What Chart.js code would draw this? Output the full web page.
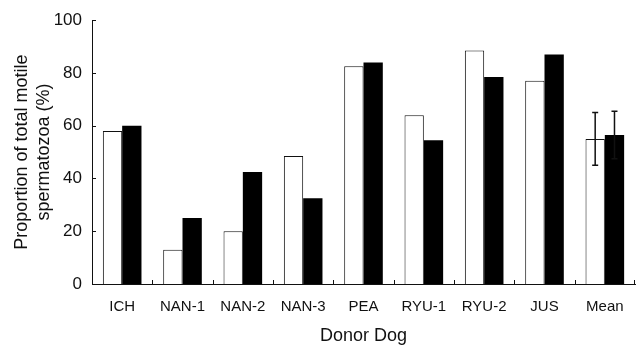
<!DOCTYPE html>
<html>
<head>
<meta charset="utf-8">
<script src="https://cdn.jsdelivr.net/npm/chart.js@4/dist/chart.umd.min.js"></script>
<style>
  html, body { margin: 0; padding: 0; background: #fff; }
  #wrap { width: 640px; height: 349px; }
</style>
</head>
<body>
<div id="wrap"><canvas id="chart_motile"></canvas></div>
<script>
var dogs = ['ICH', 'NAN-1', 'NAN-2', 'NAN-3', 'PEA', 'RYU-1', 'RYU-2', 'JUS', 'Mean'];
var open_values = [58, 13, 20, 48.5, 82.5, 64, 88.5, 77, 55];
var filled_values = [60, 25, 42.5, 32.5, 84, 54.5, 78.5, 87, 56.5];
var open_errors = [null, null, null, null, null, null, null, null, 10];
var filled_errors = [null, null, null, null, null, null, null, null, 9];
var y_ticks = [0, 20, 40, 60, 80, 100];
var y_title = ['Proportion of total motile', 'spermatozoa (%)'];
var x_title = 'Donor Dog';

var ink = '#111';
var font_family = '"Liberation Sans", Arial, sans-serif';

// small ticks pointing into the plot, plus both axis titles
var axis_marks = {
  id: 'axis_marks',
  afterDraw: function (chart) {
    var ctx = chart.ctx;
    var xs = chart.scales.x, ys = chart.scales.y;
    var area = chart.chartArea;
    ctx.save();
    ctx.strokeStyle = ink;
    ctx.lineWidth = 1;
    ctx.beginPath();
    for (var i = 1; i <= dogs.length; i++) {
      var px = Math.round((xs.getPixelForValue(i - 1) + xs.getPixelForValue(i)) / 2) + 0.5;
      if (i == dogs.length) px = Math.round(area.right) - 0.5;
      ctx.moveTo(px, area.bottom);
      ctx.lineTo(px, area.bottom - 4);
    }
    y_ticks.forEach(function (v) {
      var py = Math.round(ys.getPixelForValue(v)) + 0.5;
      ctx.moveTo(area.left, py);
      ctx.lineTo(area.left + 4, py);
    });
    ctx.stroke();

    ctx.fillStyle = ink;
    ctx.textAlign = 'center';
    ctx.textBaseline = 'middle';
    ctx.font = '18px ' + font_family;
    ctx.fillText(x_title, (area.left + area.right) / 2, 336);

    ctx.translate(0, (area.top + area.bottom) / 2);
    ctx.rotate(-Math.PI / 2);
    ctx.fillText(y_title[0], 0, 22);
    ctx.fillText(y_title[1], 0, 44);
    ctx.restore();
  }
};

// error bars on the Mean group
var error_bars = {
  id: 'error_bars',
  afterDatasetsDraw: function (chart) {
    var ctx = chart.ctx;
    var ys = chart.scales.y;
    var sets = [[open_values, open_errors], [filled_values, filled_errors]];
    ctx.save();
    ctx.lineWidth = 1.5;
    ctx.strokeStyle = ink;
    sets.forEach(function (s, d) {
      var meta = chart.getDatasetMeta(d);
      s[1].forEach(function (err, i) {
        if (err == null) return;
        var bar = meta.data[i];
        var top = ys.getPixelForValue(s[0][i] + err);
        var bot = ys.getPixelForValue(s[0][i] - err);
        ctx.beginPath();
        ctx.moveTo(bar.x, top); ctx.lineTo(bar.x, bot);
        ctx.moveTo(bar.x - 3, top); ctx.lineTo(bar.x + 3, top);
        ctx.moveTo(bar.x - 3, bot); ctx.lineTo(bar.x + 3, bot);
        ctx.stroke();
      });
    });
    ctx.restore();
  }
};

var chart_motile = document.getElementById('chart_motile').getContext('2d');

var mychart = new Chart(chart_motile, {type: 'bar', data: {
  labels: dogs,
  datasets: [{
    data: open_values,
    backgroundColor: '#fff',
    borderColor: ink,
    borderWidth: 1,
    borderSkipped: 'bottom'
  }, {
    data: filled_values,
    backgroundColor: '#000',
    borderColor: '#000',
    borderWidth: 0
  }]
}, plugins: [axis_marks, error_bars],
options: {
  responsive: true,
  maintainAspectRatio: false,
  animation: false,
  layout: { padding: { left: 0, right: 5, top: 16, bottom: 0 } },
  categoryPercentage: 0.64,
  barPercentage: 1,
  plugins: {
    legend: { display: false },
    tooltip: { enabled: false }
  },
  scales: {
    x: {
      grid: { display: false, drawTicks: false },
      border: { display: true, color: ink, width: 1 },
      ticks: { color: ink, padding: 14, font: { size: 15, family: font_family } },
      afterFit: function (scale) { scale.height = 65; }
    },
    y: {
      min: 0,
      max: 100,
      afterBuildTicks: function (scale) {
        scale.ticks = y_ticks.map(function (v) { return {value: v}; });
      },
      grid: { display: false, drawTicks: false },
      border: { display: true, color: ink, width: 1 },
      ticks: { color: ink, padding: 10, font: { size: 17, family: font_family } },
      afterFit: function (scale) { scale.width = 92; }
    }
  }
}
});
</script>
</body>
</html>
